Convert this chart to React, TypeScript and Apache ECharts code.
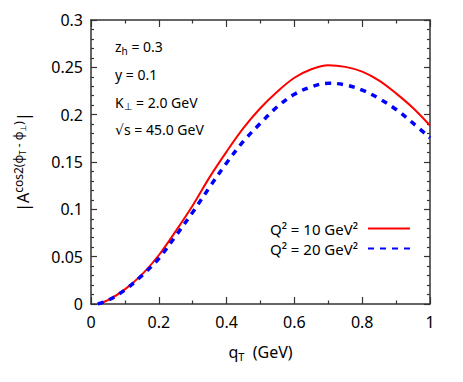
import React, { useEffect, useRef } from 'react';
import * as echarts from 'echarts';

// q_T values (GeV)
const qT = [0.02, 0.05, 0.1, 0.15, 0.2, 0.25, 0.3, 0.35, 0.4, 0.45, 0.5, 0.55, 0.6, 0.65, 0.7, 0.75, 0.8, 0.85, 0.9, 0.95, 1.0];
// |A^{cos2(phiT - phiPerp)}| for Q^2 = 10 GeV^2
const asymQ10 = [0, 0.004, 0.0155, 0.031, 0.0515, 0.077, 0.104, 0.134, 0.161, 0.186, 0.207, 0.2245, 0.239, 0.248, 0.2522, 0.2505, 0.2455, 0.236, 0.2225, 0.207, 0.1885];
// for Q^2 = 20 GeV^2
const asymQ20 = [0, 0.0038, 0.0148, 0.03, 0.048, 0.072, 0.097, 0.1235, 0.149, 0.172, 0.191, 0.2085, 0.2215, 0.2295, 0.2332, 0.2315, 0.226, 0.217, 0.2055, 0.191, 0.1755];

const seriesNames = ['Q² = 10 GeV²', 'Q² = 20 GeV²'];
const annotationTexts = [
  '{n|z}{s|h}{n| = 0.3}',
  '{n|y = 0.1}',
  '{n|K}{s|⊥}{n| = 2.0 GeV}',
  '{n|√s = 45.0 GeV}',
];
const yTitle = '{n||A}{sup|cos2(ϕ}{ss|T}{sup| - ϕ}{ss|⊥}{sup|)}{n||}';
const xTitle = '{n|q}{s|T}{n|  (GeV)}';

const FONT = '"Noto Sans", "DejaVu Sans", sans-serif';
const AXIS_COLOR = '#333';

export default function App() {
  const ref = useRef<HTMLDivElement>(null);
  useEffect(() => {
    const chart = echarts.init(ref.current!, null, { renderer: 'svg' });
    const tickCommon = { show: true, inside: true, lineStyle: { color: AXIS_COLOR, width: 1.2 } };
    const lineCommon = { show: true, onZero: false, lineStyle: { color: AXIS_COLOR, width: 1.5 } };
    const labelCommon = { fontSize: 16, color: '#000', fontFamily: FONT };
    const xBase = { type: 'value', min: 0, max: 1, interval: 0.2, splitLine: { show: false }, axisLine: lineCommon,
      axisTick: { ...tickCommon, length: 7 }, minorTick: { show: true, splitNumber: 2, length: 3.5, lineStyle: { color: AXIS_COLOR, width: 1.2 } } };
    const yBase = { type: 'value', min: 0, max: 0.3, interval: 0.05, splitLine: { show: false }, axisLine: lineCommon,
      axisTick: { ...tickCommon, length: 6 }, minorTick: { show: true, splitNumber: 5, length: 3, lineStyle: { color: AXIS_COLOR, width: 1.2 } } };
    const annY = [46.7, 74.2, 102, 129];
    chart.setOption({
      animation: false,
      backgroundColor: '#fff',
      grid: { left: 91, right: 33, top: 20, bottom: 78, containLabel: false },
      xAxis: [
        { ...xBase, position: 'bottom', axisLabel: { ...labelCommon, margin: 10 } },
        { ...xBase, position: 'top', axisLabel: { show: false } },
      ],
      yAxis: [
        { ...yBase, position: 'left', axisLabel: { ...labelCommon, margin: 8 } },
        { ...yBase, position: 'right', axisLabel: { show: false } },
      ],
      legend: {
        orient: 'vertical', right: 52, top: 221, align: 'right', itemWidth: 42, itemHeight: 14, itemGap: 5,
        padding: 0, selectedMode: false,
        itemStyle: { opacity: 0 },
        textStyle: { fontSize: 15, fontFamily: FONT, color: '#000', padding: [0, 5, 0, 0] },
        data: seriesNames,
      },
      series: [
        { type: 'line', name: seriesNames[0], data: qT.map((q, i) => [q, asymQ10[i]]), symbol: 'none', smooth: 0.35,
          lineStyle: { color: '#ff0000', width: 2 }, itemStyle: { color: '#ff0000' }, clip: true },
        { type: 'line', name: seriesNames[1], data: qT.map((q, i) => [q, asymQ20[i]]), symbol: 'none', smooth: 0.35,
          lineStyle: { color: '#0000ff', width: 3.5, type: [6, 6] }, itemStyle: { color: '#0000ff' }, clip: true },
      ],
      graphic: [
        ...annotationTexts.map((t, i) => ({
          type: 'text', x: 115, y: annY[i],
          style: { text: t, align: 'left', verticalAlign: 'middle', fill: '#000',
            rich: { n: { fontSize: 14, fontFamily: FONT, lineHeight: 18, fill: '#000' },
                    s: { fontSize: 10, fontFamily: FONT, verticalAlign: 'bottom', fill: '#000' } } },
        })),
        {
          type: 'text', x: 260.5, y: 352,
          style: { text: xTitle, align: 'center', verticalAlign: 'middle', fill: '#000',
            rich: { n: { fontSize: 16, fontFamily: FONT, lineHeight: 20, fill: '#000' },
                    s: { fontSize: 11, fontFamily: FONT, verticalAlign: 'bottom', fill: '#000' } } },
        },
        {
          type: 'text', x: 23, y: 162, rotation: Math.PI / 2,
          style: { text: yTitle, align: 'center', verticalAlign: 'middle', fill: '#000',
            rich: { n: { fontSize: 16, fontFamily: FONT, lineHeight: 22, fill: '#000' },
                    sup: { fontSize: 12, fontFamily: FONT, verticalAlign: 'top', fill: '#000' },
                    ss: { fontSize: 8, fontFamily: FONT, verticalAlign: 'top', padding: [6, 0, 0, 0], fill: '#000' } } },
        },
      ],
    });
    return () => chart.dispose();
  }, []);
  return <div ref={ref} style={{ position: 'fixed', left: 0, top: 0, width: 463, height: 382, background: '#fff' }} />;
}
